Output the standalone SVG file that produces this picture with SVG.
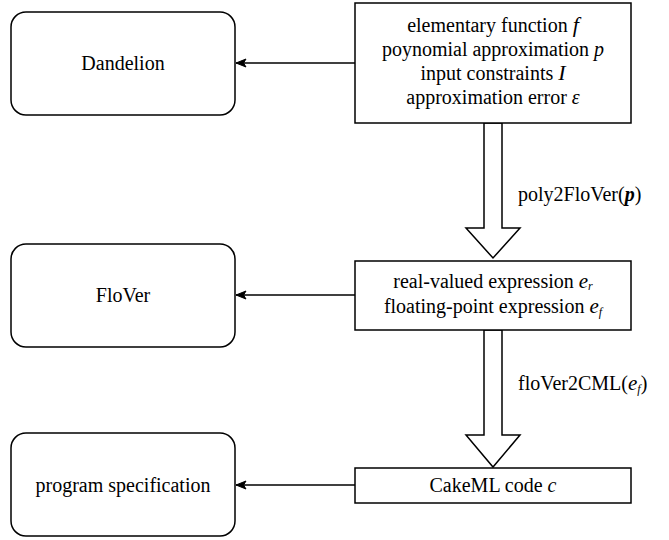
<svg xmlns="http://www.w3.org/2000/svg" width="669" height="540" viewBox="0 0 669 540">
<style>
.box{fill:#fff;stroke:#000;stroke-width:1.5}
text{font-family:"Liberation Serif","Times New Roman","DejaVu Serif",serif;font-size:20px;fill:#000}
.t{text-anchor:middle}
.m{font-style:italic}
.sub{font-style:italic;font-size:12px}
.edge{fill:none;stroke:#000;stroke-width:1.5}
.big{fill:#fff;stroke:#000;stroke-width:1.5;stroke-linejoin:miter}
</style>
<defs>
<marker id="ah" viewBox="0 0 12 10" refX="11" refY="5" markerWidth="12" markerHeight="10" markerUnits="userSpaceOnUse" orient="auto">
<path d="M1,1 L11,5 L1,9 L3.5,5 Z" fill="#000" stroke="#000" stroke-width="1"/>
</marker>
</defs>
<g id="connectors">
<line class="edge" x1="355" y1="63" x2="236" y2="63" marker-end="url(#ah)"/>
<line class="edge" x1="355" y1="295" x2="236" y2="295" marker-end="url(#ah)"/>
<line class="edge" x1="355" y1="485" x2="236" y2="485" marker-end="url(#ah)"/>
<path class="big" d="M484,123 L502,123 L502,228 L520,228 L493,258 L466,228 L484,228 Z"/>
<path class="big" d="M484,330 L502,330 L502,435 L520,435 L493,467 L466,435 L484,435 Z"/>
<text x="518" y="201">poly2FloVer(<tspan class="m" font-weight="bold">p</tspan>)</text>
<text x="518" y="390">floVer2CML(<tspan class="m" font-size="21">e</tspan><tspan class="sub" dy="3">f</tspan><tspan dy="-3">)</tspan></text>
</g>
<g id="spec">
<rect class="box" x="355" y="3" width="276" height="120"/>
<text class="t" x="493" y="32">elementary function <tspan class="m" font-size="22">f</tspan></text>
<text class="t" x="493" y="56">poynomial approximation <tspan class="m">p</tspan></text>
<text class="t" x="493" y="80">input constraints <tspan class="m" font-size="22">I</tspan></text>
<text class="t" x="493" y="104">approximation error <tspan class="m">ε</tspan></text>
</g>
<g id="expr">
<rect class="box" x="355" y="261" width="276" height="69"/>
<text class="t" x="493" y="288">real-valued expression <tspan class="m" font-size="21">e</tspan><tspan class="sub" dy="2">r</tspan></text>
<text class="t" x="493" y="313">floating-point expression <tspan class="m" font-size="21">e</tspan><tspan class="sub" dy="3">f</tspan></text>
</g>
<g id="cakeml">
<rect class="box" x="355" y="468" width="276" height="35"/>
<text class="t" x="493" y="492">CakeML code <tspan class="m">c</tspan></text>
</g>
<g id="dandelion">
<rect class="box" x="11" y="12" width="224" height="103" rx="15" ry="15"/>
<text class="t" x="123" y="70">Dandelion</text>
</g>
<g id="flover">
<rect class="box" x="11" y="244" width="224" height="103" rx="15" ry="15"/>
<text class="t" x="123" y="302">FloVer</text>
</g>
<g id="progspec">
<rect class="box" x="11" y="433" width="224" height="103" rx="15" ry="15"/>
<text class="t" x="123" y="492">program specification</text>
</g>
</svg>
